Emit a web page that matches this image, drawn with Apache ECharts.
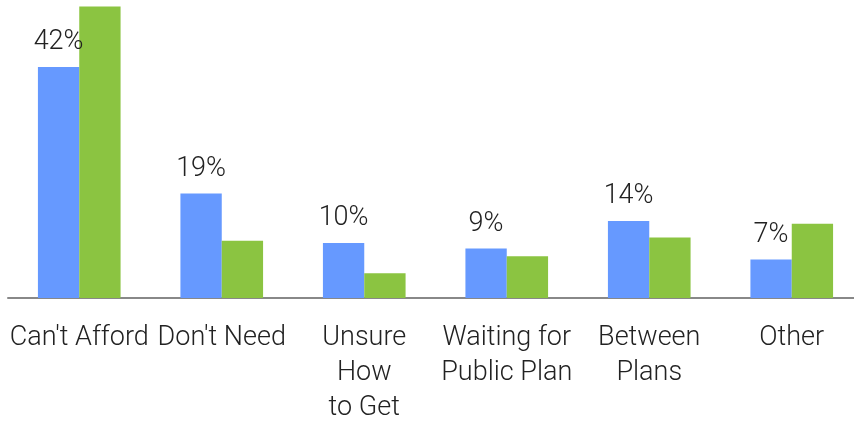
<!DOCTYPE html>
<html>
<head>
<meta charset="utf-8">
<style>
  html, body { margin: 0; padding: 0; background: #ffffff; }
  #chart { width: 854px; height: 422px; }
</style>
<script src="https://cdn.jsdelivr.net/npm/echarts@6/dist/echarts.min.js"></script>
</head>
<body>
<div id="chart"></div>
<script>
// Reasons given, two groups compared per reason (percent)
const categories = [
  "Can't Afford",
  "Don't Need",
  "Unsure\nHow\nto Get",
  "Waiting for\nPublic Plan",
  "Between\nPlans",
  "Other"
];
const blueValues = [42, 19, 10, 9, 14, 7];
const greenValues = [53, 10.4, 4.5, 7.6, 11, 13.5];

const chart = echarts.init(document.getElementById('chart'), null, { renderer: 'canvas' });

chart.setOption({
  animation: false,
  grid: {
    left: 8, width: 855, top: 1, bottom: 124,
    containLabel: false,
    outerBoundsMode: 'none'
  },
  xAxis: {
    type: 'category',
    data: categories,
    axisLine: { show: true, lineStyle: { color: '#888888', width: 2 } },
    axisTick: { show: false },
    axisLabel: {
      interval: 0,
      hideOverlap: false,
      margin: 23,
      color: '#222222',
      fontFamily: 'Roboto',
      fontWeight: 300,
      fontSize: 27,
      lineHeight: 35,
      align: 'center',
      verticalAlign: 'top'
    }
  },
  yAxis: {
    type: 'value',
    min: 0,
    max: 54,
    show: false,
    splitLine: { show: false }
  },
  series: [
    {
      type: 'bar',
      data: blueValues,
      barGap: '0%',
      barCategoryGap: '42%',
      itemStyle: { color: '#6699ff' },
      label: {
        show: true,
        position: 'top',
        distance: 11,
        formatter: '{c}%',
        color: '#222222',
        fontFamily: 'Roboto',
        fontWeight: 300,
        fontSize: 27
      }
    },
    {
      type: 'bar',
      data: greenValues,
      barGap: '0%',
      barCategoryGap: '42%',
      itemStyle: { color: '#8bc441' }
    }
  ]
});
</script>
</body>
</html>
